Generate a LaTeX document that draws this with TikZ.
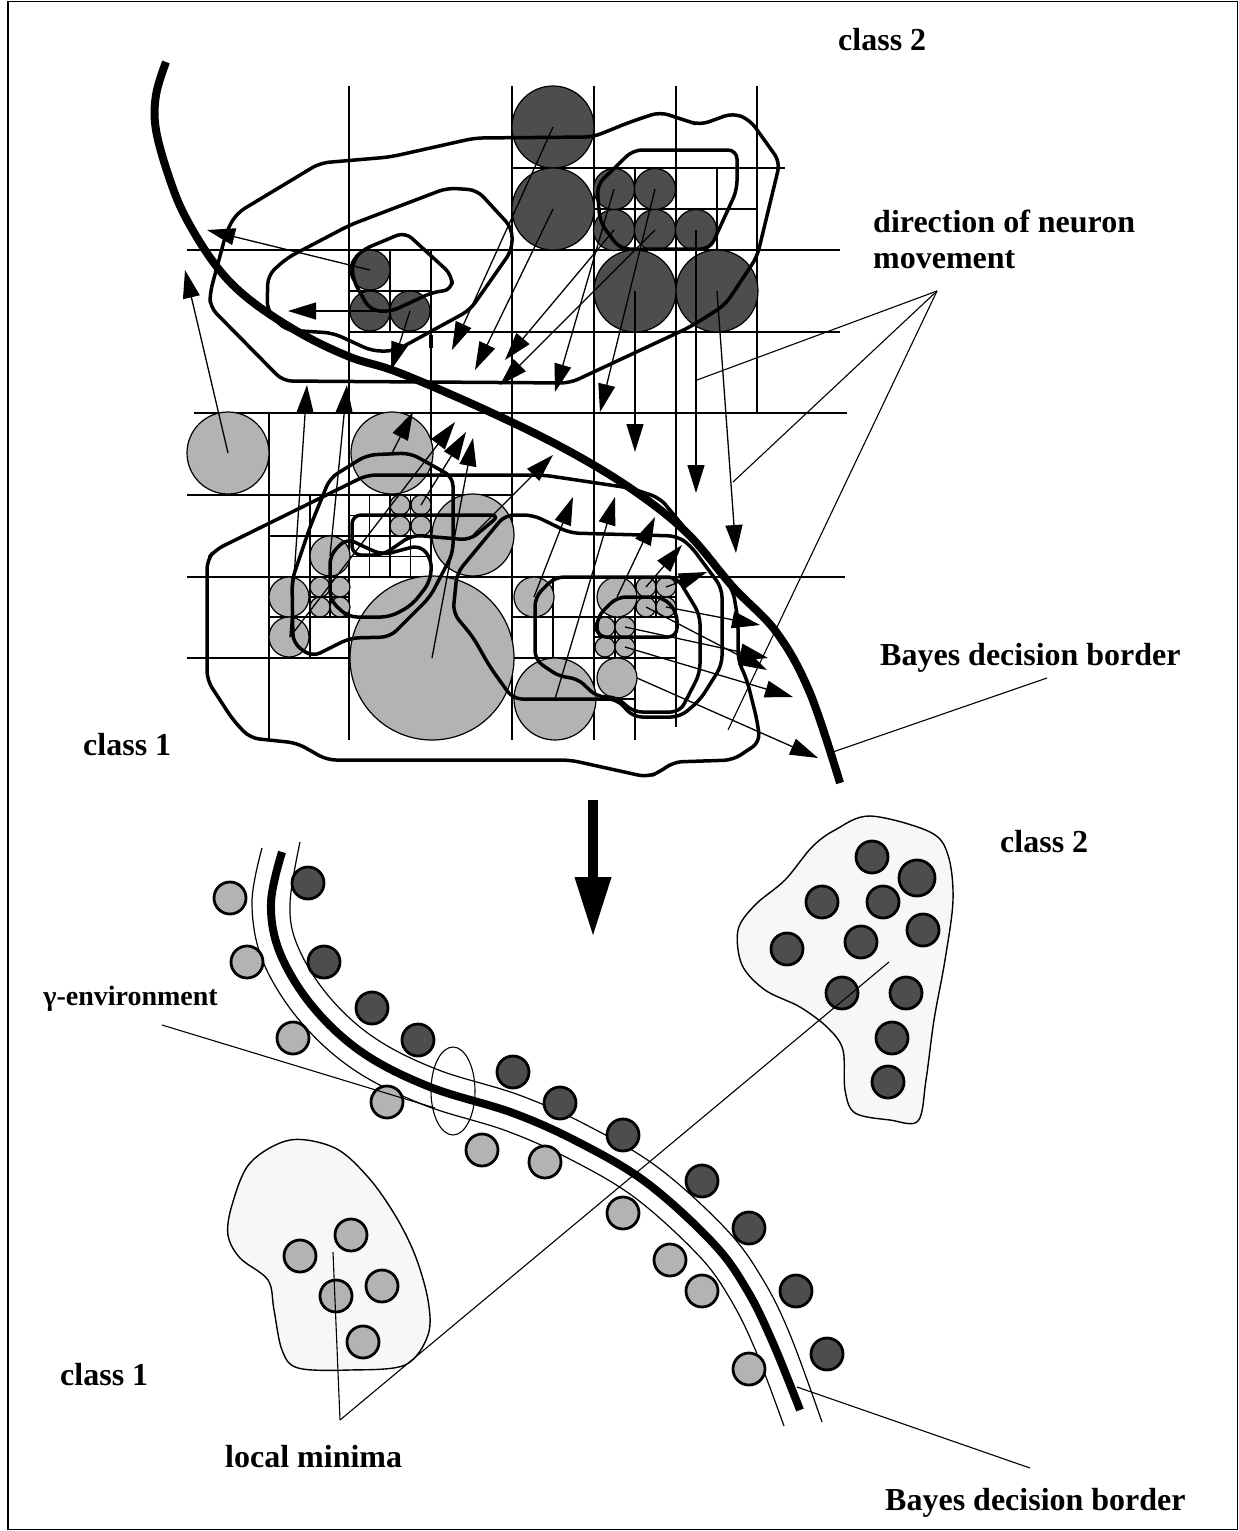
\documentclass[tikz,border=0pt]{standalone}
\usepackage{fontspec}
\setmainfont{Liberation Serif}
\usetikzlibrary{arrows.meta}
\definecolor{dkgray}{RGB}{77,77,77}
\definecolor{ltgray}{RGB}{179,179,179}
\definecolor{blobfill}{RGB}{247,247,247}
\newcommand\lblfont{\bfseries\fontsize{32}{36}\selectfont}
\newcommand\gammafont{\bfseries\fontsize{28}{32}\selectfont}
\tikzset{
  gridline/.style={line width=1.4pt},
  dk/.style={fill=dkgray, draw=black, line width=1.2pt},
  lt/.style={fill=ltgray, draw=black, line width=1.2pt},
  cline/.style={line width=3.5pt, rounded corners=9pt, line join=round},
  mv/.style={line width=1.3pt, -{Triangle[length=28pt,width=17pt]}},
  lead/.style={line width=1.1pt},
  bayes/.style={line width=8pt},
  envline/.style={line width=1.2pt},
  dotA/.style={fill=ltgray, draw=black, line width=2.8pt},
  dotB/.style={fill=dkgray, draw=black, line width=2.8pt},
  blob/.style={fill=blobfill, draw=black, line width=1.4pt},
  lbl/.style={font=\lblfont, inner sep=0pt},
}
\begin{document}
\begin{tikzpicture}[x=1pt, y=-1pt]
\useasboundingbox (0,0) rectangle (1239,1531);
\draw[line width=1.5pt] (8,1.5) rectangle (1237.5,1529.5);

% ---------- upper part: quadtree grid ----------
\foreach \x/\a/\b in {349/86/740, 512/86/740, 594/86/740, 676/86/727, 757/86/413,
    431/250/740, 390/250/332, 269/413/740, 717/168/250, 635/168/250,
    310/495/658, 330/577/617, 369.5/495/577, 390/495/577, 410.5/495/577,
    553/577/658, 635/577/740, 656/577/617, 615/617/658}
  \draw[gridline] (\x,\a) -- (\x,\b);
\foreach \y/\a/\b in {168/512/785, 209/594/757, 250/187/840, 291/349/431,
    332/349/840, 413/194/847, 495/187/512, 515.5/349/431, 536/269/431,
    556.5/349/431, 577/187/845, 617/269/349, 597/310/349, 617/512/676,
    597/635/676, 637/594/635, 658/187/676, 699/594/635}
  \draw[gridline] (\a,\y) -- (\b,\y);

% ---------- upper part: neurons ----------
\foreach \x/\y/\r in {553/127/41, 553/209/41, 614/189/20.5, 655/189/20.5,
    614/230/20.5, 655/230/20.5, 696/230/20.5, 635/291/41, 717/291/41,
    370/270/20, 370/311/20, 410/311/20}
  \draw[dk] (\x,\y) circle[radius=\r pt];
\foreach \x/\y/\r in {228/453/41, 392/453/41, 473/535/41, 432/658/82,
    289/597/20, 289/637/20, 330/556/20,
    320/587/10, 340/587/10, 320/607/10, 340/607/10,
    400/505/10, 421/505/10, 400/526/10, 421/526/10,
    534/597/20, 555/699/41, 617/597/20, 617/678/20,
    646/587/10, 666/587/10, 646/607/10, 666/607/10,
    605/627/10, 625/627/10, 605/647/10, 625/647/10}
  \draw[lt] (\x,\y) circle[radius=\r pt];

% ---------- class 2 density contours ----------
\draw[cline] (283,381) -- (570,383) -- (690,327) -- (725,305) -- (757,257)
  -- (780,162) -- (750,120) -- (733,113) -- (700,125) -- (687,121) -- (660,112)
  -- (630,122) -- (593,137) -- (475,138) -- (390,157) -- (320,163) -- (237,213)
  -- (227,230) -- (210,293) -- (210,307) -- cycle;
\draw[cline] (447,188) -- (350,225) -- (287,258) -- (268,275) -- (267,310)
  -- (285,330) -- (333,333) -- (372,351) -- (395,351) -- (470,310) -- (512,250)
  -- (512,228) -- (477,190) -- cycle;
\draw[cline] (352,262) -- (362,250) -- (405,232) -- (452,275) -- (452,290)
  -- (433,292) -- (390,312) -- (370,310) -- (353,280) -- cycle;
\draw[cline] (597,185) -- (633,150) -- (737,150) -- (737,190) -- (710,249)
  -- (620,249) -- (600,222) -- cycle;
\draw[line width=3.5pt] (431,335) -- (431,348);

% ---------- class 1 density contours ----------
\draw[cline] (207,680) -- (207,560) -- (215,550) -- (367,475) -- (543,475)
  -- (630,488) -- (660,498) -- (707,555) -- (733,590) -- (738,620) -- (738,660)
  -- (747,680) -- (757,720) -- (760,742) -- (733,760) -- (673,762) -- (660,772)
  -- (647,777) -- (570,760) -- (327,760) -- (297,743) -- (250,738) -- (233,720)
  -- cycle;
\draw[cline] (330,478) -- (367,455) -- (410,453) -- (453,477) -- (453,553)
  -- (430,597) -- (390,637) -- (350,638) -- (312,657) -- (293,643) -- (292,580)
  -- (310,527) -- cycle;
\draw[cline] (505,515) -- (533,515) -- (570,533) -- (677,536) -- (690,545)
  -- (722,588) -- (722,665) -- (700,700) -- (680,717) -- (633,717) -- (617,699)
  -- (513,699) -- (490,667) -- (473,637) -- (453,613) -- (457,573) -- cycle;
\draw[cline] (352,515) -- (500,515) -- (470,540) -- (412,535) -- (383,555)
  -- (352,555) -- cycle;
\draw[cline] (347,538) -- (330,555) -- (330,600) -- (348,617) -- (390,617)
  -- (412,605) -- (430,582) -- (432,560) -- (420,545) -- (383,555) -- (360,545)
  -- cycle;
\draw[cline] (535,597) -- (555,577) -- (677,577) -- (700,615) -- (700,673)
  -- (680,712) -- (633,712) -- (617,697) -- (597,697) -- (577,678) -- (560,677)
  -- (535,660) -- cycle;
\draw[cline] (617,597) -- (663,597) -- (677,612) -- (677,637) -- (597,637)
  -- (597,617) -- cycle;

% ---------- Bayes decision border (upper) ----------
\draw[bayes] plot[smooth, tension=0.6] coordinates {(166,62) (156,95) (156,130)
  (170,180) (187,220) (217,267) (250,300) (300,333) (350,357) (400,373)
  (490,412) (567,450) (633,490) (687,533) (733,587) (777,633) (810,693) (840,783)};

% ---------- directions of neuron movement ----------
\foreach \a/\b/\c/\d in {370/270/207/230, 390/311/288/311, 410/311/391/370,
    553/127/452/350, 553/209/475/370, 614/230/505/360, 655/230/500/385,
    614/189/555/392, 655/189/600/412, 635/291/635/452, 696/230/696/493,
    717/291/736/553,
    228/453/185/270, 290/637/307/385, 330/556/347/385, 392/453/413/412,
    290/637/455/422, 421/505/466/432, 432/658/473/438, 473/535/553/455,
    534/597/573/497, 555/699/615/497, 617/597/655/517, 646/587/682/545,
    666/587/707/572, 666/607/760/625, 625/627/768/658, 646/607/767/670,
    625/647/793/697, 637/678/818/758}
  \draw[mv] (\a,\b) -- (\c,\d);

% ---------- lower part ----------
\draw[line width=10pt, -{Triangle[length=60pt,width=34pt]}] (593,800) -- (593,937);

% class regions
\draw[blob] plot[smooth cycle, tension=0.55] coordinates {(870,816) (930,832)
  (948,855) (953,900) (945,960) (934,1020) (926,1080) (918,1121) (890,1120)
  (855,1113) (845,1090) (843,1050) (828,1028) (800,1007) (765,990) (742,965)
  (738,930) (755,905) (785,880) (812,847) (835,830)};
\draw[blob] plot[smooth cycle, tension=0.55] coordinates {(290,1140) (335,1148)
  (368,1177) (395,1215) (415,1255) (428,1300) (428,1335) (405,1365) (350,1370)
  (298,1368) (282,1350) (274,1310) (268,1280) (240,1258) (228,1235) (232,1205)
  (250,1163)};

% gamma environment around the lower Bayes border
\draw[envline] plot[smooth, tension=0.6] coordinates {(262,848) (252,902.3)
  (262.4,960.1) (298.4,1019.1) (352.3,1068.7) (423,1104.6) (506.3,1130.8)
  (571.2,1159.8) (635.6,1198.2) (699.1,1256) (730.7,1299.8) (755.6,1350.5)
  (784,1426)};
\draw[envline] plot[smooth, tension=0.6] coordinates {(300,842) (290,903.7)
  (297.6,945.9) (327.6,994.9) (373.7,1037.3) (437,1069.4) (519.7,1095.2)
  (588.8,1126.2) (658.4,1167.8) (726.9,1230) (763.3,1280.2) (790.4,1335.5)
  (822,1422)};
\draw[bayes] plot[smooth, tension=0.6] coordinates {(282,852) (271,903)
  (280,953) (313,1007) (363,1053) (430,1087) (513,1113) (580,1143) (647,1183)
  (713,1243) (747,1290) (773,1343) (800,1410)};
\draw[line width=1.1pt] (453,1091) ellipse[x radius=22pt, y radius=44pt];

% neurons after training
\foreach \x/\y in {230/898, 247/962, 293/1038, 387/1102, 482/1150, 545/1162,
    623/1213, 670/1260, 702/1291, 749/1369,
    300/1256, 351/1235, 336/1296, 382/1286, 363/1342}
  \draw[dotA] (\x,\y) circle[radius=16pt];
\foreach \x/\y in {308/883, 324/962, 372/1008, 418/1040, 513/1072, 560/1103,
    623/1135, 702/1181, 749/1228, 796/1291, 827/1354,
    872/857, 822/902, 883/902, 923/930, 787/949, 861/942, 842/993, 906/993,
    892/1038, 888/1082}
  \draw[dotB] (\x,\y) circle[radius=16pt];
\draw[dotB] (917,878) circle[radius=18pt];

% ---------- labels ----------
\node[lbl, anchor=base west] (ctwoA) at (838,50) {class 2};
\node[lbl, anchor=base west] (dirA) at (873,232) {direction of neuron};
\node[lbl, anchor=base west] (dirB) at (873,268) {movement};
\node[lbl, anchor=base west] (bayesA) at (880,665) {Bayes decision border};
\node[lbl, anchor=base west] (coneA) at (83,755) {class 1};
\node[lbl, anchor=base west] (ctwoB) at (1000,852) {class 2};
\node[font=\gammafont, inner sep=0pt, anchor=base east] (gam) at (218,1005) {γ-environment};
\node[lbl, anchor=base west] (coneB) at (60,1385) {class 1};
\node[lbl, anchor=base west] (minima) at (225,1467) {local minima};
\node[lbl, anchor=base west] (bayesB) at (885,1510) {Bayes decision border};

% ---------- leader lines ----------
\coordinate (dirTip) at (937,291);
\coordinate (dirEndA) at (697,380);
\coordinate (dirEndB) at (733,482);
\coordinate (dirEndC) at (728,730);
\draw[lead] (dirTip) -- (dirEndA);
\draw[lead] (dirTip) -- (dirEndB);
\draw[lead] (dirTip) -- (dirEndC);
\coordinate (bayesTipA) at (1047,678);
\coordinate (bayesEndA) at (830,753);
\draw[lead] (bayesTipA) -- (bayesEndA);
\coordinate (gamTip) at (162,1025);
\coordinate (gamEnd) at (435,1108);
\draw[lead] (gamTip) -- (gamEnd);
\coordinate (minTip) at (340,1420);
\coordinate (minEndA) at (333,1252);
\coordinate (minEndB) at (889,962);
\draw[lead] (minTip) -- (minEndA);
\draw[lead] (minTip) -- (minEndB);
\coordinate (bayesTipB) at (1030,1468);
\coordinate (bayesEndB) at (797,1387);
\draw[lead] (bayesTipB) -- (bayesEndB);
\end{tikzpicture}
\end{document}
